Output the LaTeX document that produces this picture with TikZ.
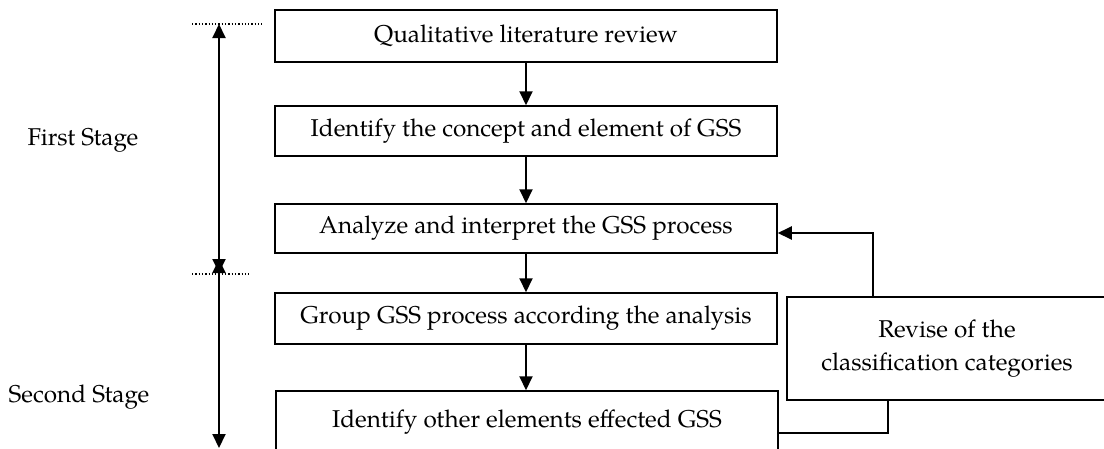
\documentclass[tikz,border=0pt]{standalone}
\usepackage{fontspec}
\setmainfont{texgyrepagella}[Extension=.otf,UprightFont=*-regular,BoldFont=*-bold,ItalicFont=*-italic,BoldItalicFont=*-bolditalic]
\usetikzlibrary{arrows.meta}
\begin{document}
\begin{tikzpicture}[x=1pt,y=-1pt,
  stepbox/.style={draw,line width=1.5pt,minimum width=502pt,inner sep=0pt,font=\fontsize{24.3}{33}\selectfont},
  arr/.style={line width=2pt,-{Triangle[length=14pt,width=13pt]}},
  stagearr/.style={line width=2pt,{Triangle[length=14pt,width=13pt]}-{Triangle[length=14pt,width=13pt]}},
  lbl/.style={font=\fontsize{24.3}{33}\selectfont},
  dots/.style={line width=1.3pt,dotted}]
\useasboundingbox (0,0) rectangle (1104,448);
\clip (0,0) rectangle (1104,448);
\node[stepbox,minimum height=52pt] (b1) at (526,36) {Qualitative literature review};
\node[stepbox,minimum height=50pt] (b2) at (526,131) {Identify the concept and element of GSS};
\node[stepbox,minimum height=49pt] (b3) at (526,228.5) {Analyze and interpret the GSS process};
\node[stepbox,minimum height=51pt] (b4) at (526,318.5) {Group GSS process according the analysis};
\node[stepbox,minimum height=62pt] (b5) at (527,422) {Identify other elements effected GSS};
\node[stepbox,minimum width=320pt,minimum height=103pt,align=center] (rev) at (947,348.5) {Revise of the\\classification categories};
\draw[arr] (b1.south) -- (b2.north);
\draw[arr] (b2.south) -- (b3.north);
\draw[arr] (b3.south) -- (b4.north);
\draw[arr] (b4.south) -- (b4.south |- b5.north);
\coordinate (fbtop) at (873,233);
\coordinate (fbbot) at (888,433);
\draw[arr] (rev.north -| fbtop) |- (b3.east |- fbtop);
\draw[line width=1.5pt] (rev.south -| fbbot) |- (b5.east |- fbbot);
\coordinate (s1top) at (219,24);
\coordinate (s1bot) at (219,273);
\coordinate (s2top) at (219,259);
\coordinate (s2bot) at (219,448);
\draw[stagearr] (s1top) -- (s1bot);
\draw[stagearr] (s2top) -- (s2bot);
\coordinate (d1a) at (192,24);
\coordinate (d1b) at (262,24);
\coordinate (d2a) at (192,274);
\coordinate (d2b) at (250,274);
\draw[dots] (d1a) -- (d1b);
\draw[dots] (d2a) -- (d2b);
\node[lbl] (st1) at (83,140) {First Stage};
\node[lbl] (st2) at (79,397) {Second Stage};
\end{tikzpicture}
\end{document}
